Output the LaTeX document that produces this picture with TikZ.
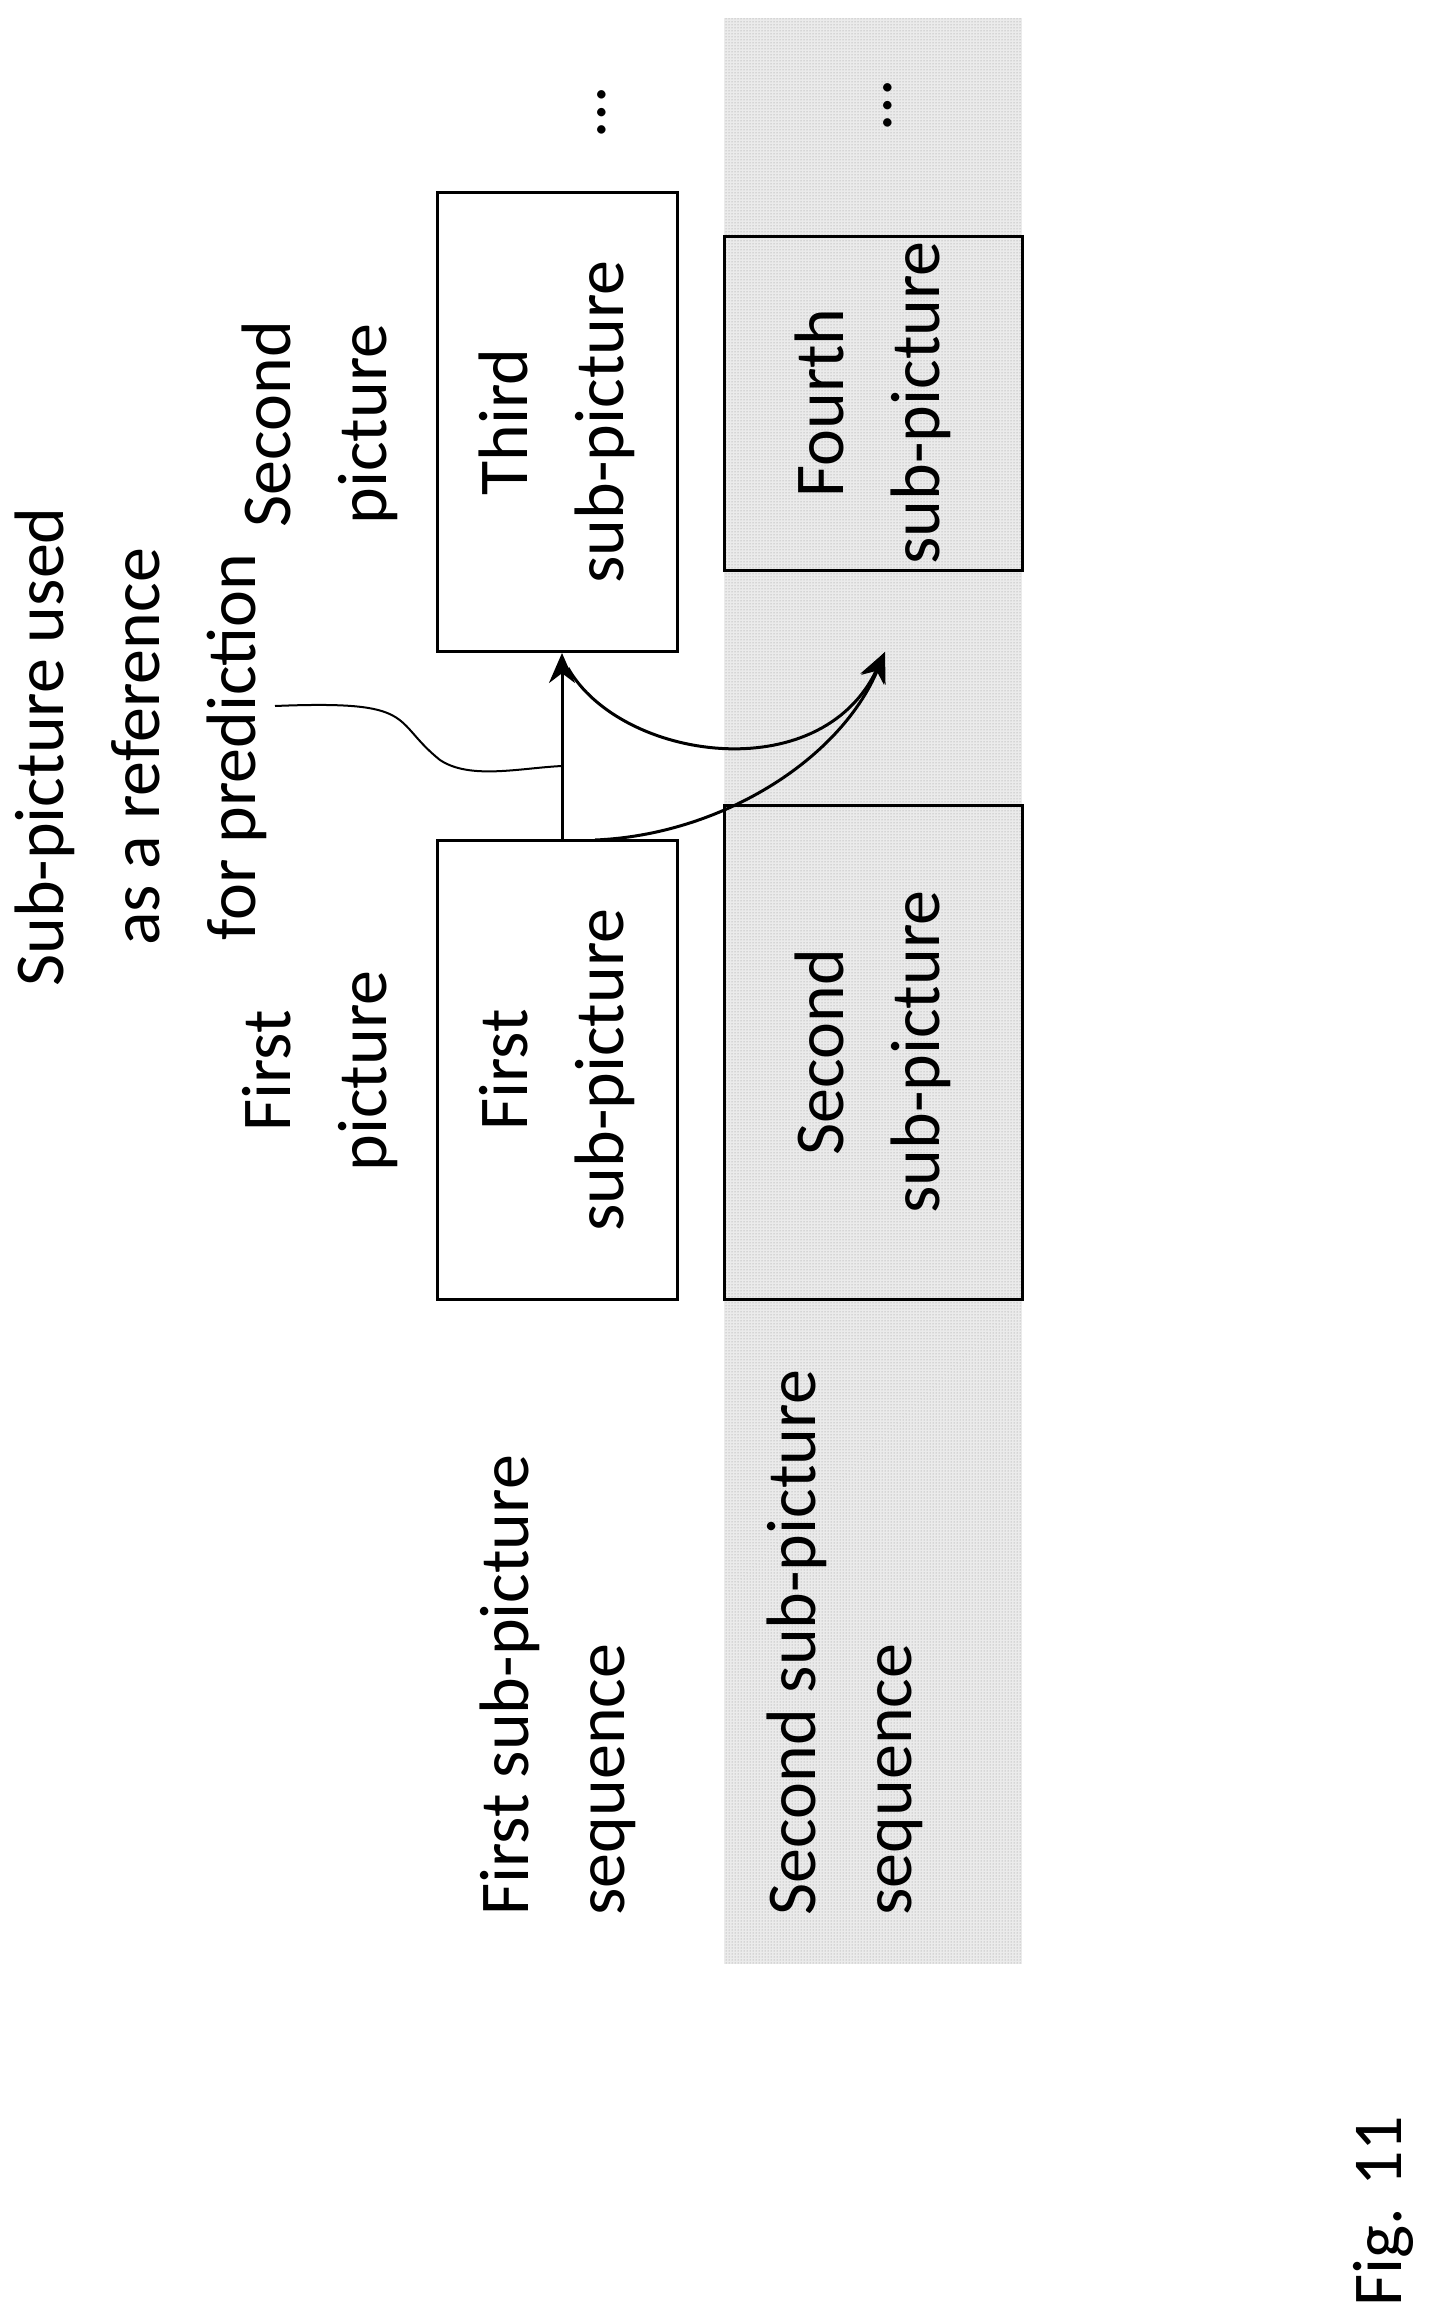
\documentclass[tikz,border=0pt]{standalone}
\usepackage{fontspec}
\setmainfont{Carlito}
\usetikzlibrary{patterns,arrows.meta}
\begin{document}
\begin{tikzpicture}[x=1pt,y=-1pt,
  txt/.style={rotate=90,align=center,font=\fontsize{70}{96}\selectfont},
  box/.style={draw,line width=3pt},
  dotsfill/.style={preaction={fill=black!8},pattern=dots,pattern color=black!45},
  arr/.style={line width=3pt,-{Stealth[length=30pt,width=26pt]}}]
\useasboundingbox (0,0) rectangle (1428,2320);
\fill[dotsfill] (724,18) rectangle (1022,1964);
\node[box,dotsfill,minimum width=298pt,minimum height=334pt] (fourth) at (873,403) {};
\node[box,dotsfill,minimum width=298pt,minimum height=494pt] (second) at (873,1052) {};
\node[box,fill=white,minimum width=240pt,minimum height=459pt] (third) at (557,422) {};
\node[box,fill=white,minimum width=240pt,minimum height=459pt] (first) at (557,1070) {};
\node[txt] (t3) at (third.center) {Third\\sub-picture};
\node[txt] (t1) at (first.center) {First\\sub-picture};
\node[txt] (t4) at (fourth.center) {Fourth\\sub-picture};
\node[txt] (t2) at (second.center) {Second\\sub-picture};
\node[txt] (ref) at (141,747) {Sub-picture used\\as a reference\\for prediction};
\node[txt] (sp) at (320,424) {Second\\picture};
\node[txt] (fp) at (320,1071) {First\\picture};
\node[txt,align=left,anchor=west] (s1) at (558,1919) {First sub-picture\\sequence};
\node[txt,align=left,anchor=west] (s2) at (845,1919) {Second sub-picture\\sequence};
\node[txt] (d1) at (602,112) {\dots};
\node[txt] (d2) at (888,105) {\dots};
\node[txt,anchor=west] (fig) at (1383,2310) {Fig. 11};
\coordinate (a) at (first.north -| 562,0);
\coordinate (b) at (third.south -| 562,0);
\coordinate (c) at (595,840);
\coordinate (d) at (885,652);
\coordinate (e) at (568,668);
\coordinate (m) at (562,766);
\coordinate (l) at (275,706);
\draw[arr] (a) -- (b);
\draw[arr] (e) .. controls (620,760) and (820,790) .. (d);
\draw[arr] (c) .. controls (720,835) and (840,760) .. (d);
\draw[line width=2pt] (l) .. controls (420,700) and (390,720) .. (440,760) .. controls (470,780) and (520,768) .. (m);
\end{tikzpicture}
\end{document}
